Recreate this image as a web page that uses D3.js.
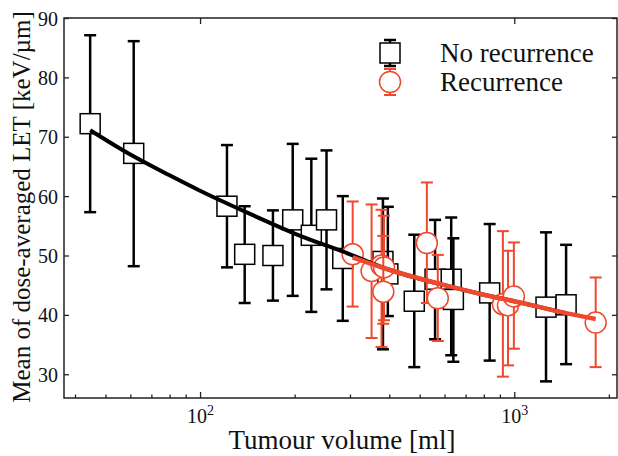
<!DOCTYPE html>
<html>
<head>
<meta charset="utf-8">
<script src="https://cdn.jsdelivr.net/npm/d3@7"></script>
<style>
  body { margin: 0; background: #fff; }
  svg { display: block; }
  text { font-family: "Liberation Serif", "DejaVu Serif", serif; fill: #111; }
</style>
</head>
<body>
<div id="chart"></div>
<script>
// No recurrence (squares)
const noRecVolume = [44.7, 61.5, 121.8, 138.7, 170.6, 197.2, 226, 252.6, 284.6, 382, 396, 480.6, 559.7, 630, 640, 835, 1262, 1462];
const noRecLet    = [72.2, 67.2, 58.3, 50.2, 50.0, 56.0, 53.4, 56.0, 49.5, 49.0, 46.9, 42.3, 46.0, 46.0, 42.6, 43.7, 41.3, 41.7];
const noRecHigh   = [87.1, 86.1, 68.6, 58.3, 57.6, 68.8, 66.3, 67.7, 60.0, 59.6, 58.2, 53.5, 56.0, 56.4, 52.9, 55.3, 53.9, 51.8];
const noRecLow    = [57.3, 48.2, 48.0, 42.0, 42.4, 43.2, 40.5, 44.3, 39.0, 34.2, 39.8, 31.2, 35.9, 33.2, 32.1, 32.3, 28.8, 31.7];

// Recurrence (circles)
const recVolume = [306, 351.5, 378, 385, 383, 527, 571, 920, 955, 997, 1816];
const recLet    = [50.2, 47.4, 48.3, 48.0, 43.9, 52.1, 42.8, 41.8, 41.6, 43.1, 38.7];
const recHigh   = [59.1, 58.6, 57.7, 56.7, 53.3, 62.3, 50.1, 54.1, 50.8, 52.2, 46.3];
const recLow    = [41.4, 36.1, 34.6, 39.1, 38.5, 42.0, 35.6, 29.6, 31.5, 34.3, 31.2];

// fitted trend lines
const noRecFitVolume = [44.7, 60, 80, 100, 150, 200, 300, 400, 600, 800, 1000, 1462];
const noRecFitLet    = [71.1, 67.0, 63.5, 60.9, 56.6, 53.7, 50.2, 47.6, 45.0, 43.4, 42.3, 40.3];
const recFitVolume = [306, 400, 600, 800, 1000, 1400, 1816];
const recFitLet    = [49.7, 47.6, 45.0, 43.4, 42.3, 40.5, 39.3];

const yTicks = [30, 40, 50, 60, 70, 80, 90];
const xMajor = [100, 1000];
const xMinor = [40, 50, 60, 70, 80, 90, 200, 300, 400, 500, 600, 700, 800, 900, 2000];

const width = 618, height = 456;
const red = "#f0482c";

const svg = d3.select("#chart").append("svg")
    .attr("width", width)
    .attr("height", height);

const x = d3.scaleLog().domain([36.9, 2123]).range([64, 617]);
const y = d3.scaleLinear().domain([26, 90]).range([398, 18]);

// axes, ticks pointing inward
const tickStyle = g => {
    g.select(".domain").remove();
    g.selectAll(".tick line").attr("stroke", "#222").attr("stroke-width", 1.3);
    g.selectAll(".tick text").style("font-size", "20px").style("font-family", "Liberation Serif").attr("fill", "#111");
};

svg.append("g")
    .attr("transform", "translate(64,0)")
    .call(d3.axisLeft(y).tickValues(yTicks).tickSize(-5).tickPadding(6).tickSizeOuter(0))
    .call(tickStyle)
    .selectAll(".tick text").attr("dy", "0.35em");

svg.append("g")
    .attr("transform", "translate(617,0)")
    .call(d3.axisRight(y).tickValues(yTicks).tickSize(-5).tickFormat("").tickSizeOuter(0))
    .call(tickStyle);

svg.append("g")
    .attr("transform", "translate(0,398)")
    .call(d3.axisBottom(x).tickValues(xMajor).tickSize(-6).tickFormat("").tickSizeOuter(0))
    .call(tickStyle);

svg.append("g")
    .attr("transform", "translate(0,398)")
    .call(d3.axisBottom(x).tickValues(xMinor).tickSize(-3.5).tickFormat("").tickSizeOuter(0))
    .call(tickStyle);

svg.append("g")
    .attr("transform", "translate(0,18)")
    .call(d3.axisTop(x).tickValues(xMajor).tickSize(-6).tickFormat("").tickSizeOuter(0))
    .call(tickStyle);

// 10^n labels
const xLab = svg.append("g").selectAll("text")
    .data(xMajor)
    .join("text")
    .attr("x", d => x(d) - 13)
    .attr("y", 423)
    .style("font-size", "20px");
xLab.append("tspan").text("10");
xLab.append("tspan")
    .attr("dy", -8)
    .style("font-size", "14px")
    .text(d => Math.round(Math.log10(d)));

// frame
svg.append("rect")
    .attr("x", 64).attr("y", 18)
    .attr("width", 553).attr("height", 380)
    .attr("fill", "none")
    .attr("stroke", "#222")
    .attr("stroke-width", 1.5);

// error bars
function drawSeries(vol, val, hi, lo, color, barWidth, shape) {
    const g = svg.append("g");
    const idx = d3.range(vol.length);
    const pts = g.selectAll("g").data(idx).join("g");
    pts.append("line")
        .attr("x1", i => x(vol[i])).attr("x2", i => x(vol[i]))
        .attr("y1", i => y(hi[i])).attr("y2", i => y(lo[i]))
        .attr("stroke", color).attr("stroke-width", barWidth);
    [hi, lo].forEach(arr => {
        pts.append("line")
            .attr("x1", i => x(vol[i]) - 6).attr("x2", i => x(vol[i]) + 6)
            .attr("y1", i => y(arr[i])).attr("y2", i => y(arr[i]))
            .attr("stroke", color).attr("stroke-width", barWidth);
    });
    if (shape === "square") {
        pts.append("rect")
            .attr("x", i => x(vol[i]) - 10).attr("y", i => y(val[i]) - 10)
            .attr("width", 20).attr("height", 20)
            .attr("fill", "#fff").attr("stroke", color).attr("stroke-width", 1.5);
    } else {
        pts.append("circle")
            .attr("cx", i => x(vol[i])).attr("cy", i => y(val[i]))
            .attr("r", 10.5)
            .attr("fill", "#fff").attr("stroke", color).attr("stroke-width", 1.5);
    }
}

drawSeries(noRecVolume, noRecLet, noRecHigh, noRecLow, "#000", 2.5, "square");
drawSeries(recVolume, recLet, recHigh, recLow, red, 2, "circle");

// trend lines
const line = d3.line().x(d => x(d[0])).y(d => y(d[1])).curve(d3.curveMonotoneX);
svg.append("path")
    .datum(d3.zip(noRecFitVolume, noRecFitLet))
    .attr("d", line)
    .attr("fill", "none").attr("stroke", "#000").attr("stroke-width", 4);
svg.append("path")
    .datum(d3.zip(recFitVolume, recFitLet))
    .attr("d", line)
    .attr("fill", "none").attr("stroke", red).attr("stroke-width", 4.5);

// legend
const legend = svg.append("g");
const legendItems = [
    { label: "No recurrence", color: "#000", shape: "square", cy: 53, barWidth: 2.5 },
    { label: "Recurrence", color: red, shape: "circle", cy: 82, barWidth: 2 }
];
legendItems.forEach(it => {
    const cx = 390;
    legend.append("line")
        .attr("x1", cx).attr("x2", cx).attr("y1", it.cy - 13).attr("y2", it.cy + 13)
        .attr("stroke", it.color).attr("stroke-width", it.barWidth);
    [-13, 13].forEach(o => legend.append("line")
        .attr("x1", cx - 6).attr("x2", cx + 6).attr("y1", it.cy + o).attr("y2", it.cy + o)
        .attr("stroke", it.color).attr("stroke-width", it.barWidth));
    if (it.shape === "square") {
        legend.append("rect").attr("x", cx - 10).attr("y", it.cy - 10).attr("width", 20).attr("height", 20)
            .attr("fill", "#fff").attr("stroke", it.color).attr("stroke-width", 1.5);
    } else {
        legend.append("circle").attr("cx", cx).attr("cy", it.cy).attr("r", 10.5)
            .attr("fill", "#fff").attr("stroke", it.color).attr("stroke-width", 1.5);
    }
    legend.append("text")
        .attr("x", 440).attr("y", it.cy + 9)
        .style("font-size", "27px")
        .text(it.label);
});

// axis titles
svg.append("text")
    .attr("x", 342).attr("y", 449)
    .attr("text-anchor", "middle")
    .style("font-size", "27px")
    .text("Tumour volume [ml]");

svg.append("text")
    .attr("transform", "translate(30,207) rotate(-90)")
    .attr("text-anchor", "middle")
    .style("font-size", "25px")
    .text("Mean of dose-averaged LET [keV/µm]");
</script>
</body>
</html>
